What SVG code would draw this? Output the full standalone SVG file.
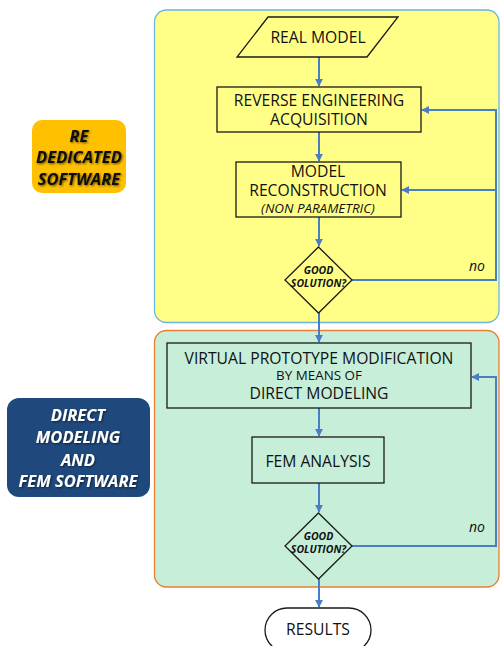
<svg xmlns="http://www.w3.org/2000/svg" width="501" height="646" viewBox="0 0 501 646">
  <defs>
    <marker id="arrow" viewBox="0 0 10 10" refX="9" refY="5" markerWidth="4" markerHeight="4" orient="auto" markerUnits="strokeWidth">
      <path d="M0,0 L10,5 L0,10 z" fill="#4a7ec4"/>
    </marker>
    <filter id="shadow" x="-10%" y="-30%" width="120%" height="160%">
      <feDropShadow dx="1" dy="1" stdDeviation="1" flood-color="#000" flood-opacity="0.6"/>
    </filter>
  </defs>
  <style>
    text { font-family: "Open Sans", "Noto Sans", "DejaVu Sans", sans-serif; fill: #111; text-anchor: middle; }
    .t { font-size: 15.7px; }
    .s { font-size: 13.4px; }
    .it { font-style: italic; }
    .d { font-size: 10.5px; font-weight: bold; font-style: italic; }
    .box { fill: none; stroke: #1a1a1a; stroke-width: 1.3; }
    .lbl { font-size: 16.5px; font-weight: bold; font-style: italic; }
    .conn { fill: none; stroke: #4a7ec4; stroke-width: 2; }
  </style>

  <!-- swimlane areas -->
  <g id="lane-re">
    <rect x="154.5" y="10" width="344.5" height="312.5" rx="12" fill="#ffff88" stroke="#6cb4e0" stroke-width="1.3"/>
  </g>
  <g id="lane-dm">
    <rect x="154.5" y="330.5" width="344.5" height="256.5" rx="12" fill="#c6eed9" stroke="#ed7d31" stroke-width="1.3"/>
  </g>

  <!-- side labels -->
  <g id="label-re">
    <rect x="32" y="120" width="94" height="73" rx="10" fill="#ffc000"/>
    <g filter="url(#shadow)">
      <text class="lbl" x="79" y="142">RE</text>
      <text class="lbl" x="79" y="163">DEDICATED</text>
      <text class="lbl" x="79" y="185">SOFTWARE</text>
    </g>
  </g>
  <g id="label-dm">
    <rect x="7" y="398" width="143" height="99" rx="12" fill="#1f497d"/>
    <g filter="url(#shadow)">
      <text class="lbl" x="78" y="421" style="fill:#fff">DIRECT</text>
      <text class="lbl" x="78" y="443" style="fill:#fff">MODELING</text>
      <text class="lbl" x="78" y="466" style="fill:#fff">AND</text>
      <text class="lbl" x="78" y="487" style="fill:#fff">FEM SOFTWARE</text>
    </g>
  </g>

  <!-- connectors -->
  <g id="connectors">
    <line class="conn" x1="319" y1="57" x2="319" y2="86" marker-end="url(#arrow)"/>
    <line class="conn" x1="319" y1="132" x2="319" y2="161" marker-end="url(#arrow)"/>
    <line class="conn" x1="319" y1="217" x2="319" y2="246" marker-end="url(#arrow)"/>
    <line class="conn" x1="319" y1="313" x2="319" y2="342" marker-end="url(#arrow)"/>
    <polyline class="conn" points="352,280 496,280 496,110 422,110" marker-end="url(#arrow)"/>
    <polyline class="conn" points="496,190 402,190" marker-end="url(#arrow)"/>
    <line class="conn" x1="319" y1="408" x2="319" y2="436" marker-end="url(#arrow)"/>
    <line class="conn" x1="319" y1="483" x2="319" y2="512" marker-end="url(#arrow)"/>
    <polyline class="conn" points="352,546 496,546 496,377 472,377" marker-end="url(#arrow)"/>
    <line class="conn" x1="319" y1="579" x2="319" y2="607" marker-end="url(#arrow)"/>
    <text class="it" x="477" y="271" style="font-size:14px">no</text>
    <text class="it" x="477" y="532" style="font-size:14px">no</text>
  </g>

  <!-- nodes -->
  <g id="real-model">
    <polygon class="box" points="268,17 398,17 367,57 237,57"/>
    <text class="t" x="318" y="43">REAL MODEL</text>
  </g>
  <g id="re-acquisition">
    <rect class="box" x="217" y="87" width="204" height="45"/>
    <text class="t" x="319" y="106">REVERSE ENGINEERING</text>
    <text class="t" x="319" y="125">ACQUISITION</text>
  </g>
  <g id="model-reconstruction">
    <rect class="box" x="236" y="162" width="165" height="55"/>
    <text class="t" x="318" y="177">MODEL</text>
    <text class="t" x="318" y="196">RECONSTRUCTION</text>
    <text class="s it" x="318" y="213">(NON PARAMETRIC)</text>
  </g>
  <g id="check-re">
    <polygon class="box" points="318.5,247 352,280 318.5,313 285,280"/>
    <text class="d" x="318.5" y="274">GOOD</text>
    <text class="d" x="318.5" y="287">SOLUTION?</text>
  </g>
  <g id="virtual-prototype">
    <rect class="box" x="167" y="343" width="304" height="65"/>
    <text class="t" x="319" y="364">VIRTUAL PROTOTYPE MODIFICATION</text>
    <text class="s" x="319" y="380">BY MEANS OF</text>
    <text class="t" x="319" y="399">DIRECT MODELING</text>
  </g>
  <g id="fem-analysis">
    <rect class="box" x="252" y="437" width="132" height="46"/>
    <text class="t" x="318" y="467">FEM ANALYSIS</text>
  </g>
  <g id="check-fem">
    <polygon class="box" points="318.5,513 352,546 318.5,579 285,546"/>
    <text class="d" x="318.5" y="540">GOOD</text>
    <text class="d" x="318.5" y="553">SOLUTION?</text>
  </g>
  <g id="results">
    <rect class="box" x="265" y="608" width="106" height="44" rx="22" style="fill:#fff"/>
    <text class="t" x="318" y="635">RESULTS</text>
  </g>
</svg>
